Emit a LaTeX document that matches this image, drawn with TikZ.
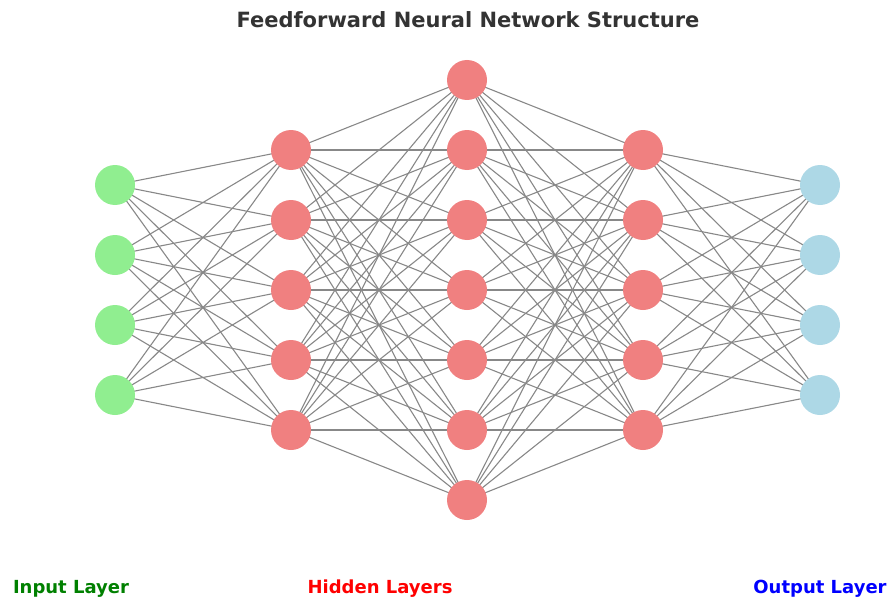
\documentclass[tikz,border=0pt]{standalone}
\usepackage{fontspec}
\setmainfont{DejaVu Sans}
\usepackage{tikz}
\usetikzlibrary{backgrounds}
\definecolor{incolor}{HTML}{90EE90}
\definecolor{hidcolor}{HTML}{F08080}
\definecolor{outcolor}{HTML}{ADD8E6}
\definecolor{titlecolor}{HTML}{333333}
\definecolor{linkcolor}{HTML}{888888}
\newcommand{\edgecolor}{linkcolor}
\newcommand{\nodesize}{40pt}
\newcommand{\edgewidth}{1.1pt}

\begin{document}
\begin{tikzpicture}[x=1pt,y=-1pt]
\useasboundingbox (0,0) rectangle (890,599);
%title and labels
\node[text=titlecolor,font=\bfseries\fontsize{21}{24}\selectfont,anchor=base] (title) at (468,28) {Feedforward Neural Network Structure};
\node[text=green!50!black,font=\bfseries\fontsize{18}{21}\selectfont,anchor=base] (inlabel) at (71,593) {Input Layer};
\node[text=red,font=\bfseries\fontsize{18}{21}\selectfont,anchor=base] (hidlabel) at (380,593) {Hidden Layers};
\node[text=blue,font=\bfseries\fontsize{18}{21}\selectfont,anchor=base] (outlabel) at (820,593) {Output Layer};
%input
\node[fill=incolor] (11) at (115,185) [circle,inner sep=0,minimum size=\nodesize] {};
\node[fill=incolor] (12) at (115,255) [circle,inner sep=0,minimum size=\nodesize] {};
\node[fill=incolor] (13) at (115,325) [circle,inner sep=0,minimum size=\nodesize] {};
\node[fill=incolor] (14) at (115,395) [circle,inner sep=0,minimum size=\nodesize] {};
%hidden 1
\node[fill=hidcolor] (21) at (291,150) [circle,inner sep=0,minimum size=\nodesize] {};
\node[fill=hidcolor] (22) at (291,220) [circle,inner sep=0,minimum size=\nodesize] {};
\node[fill=hidcolor] (23) at (291,290) [circle,inner sep=0,minimum size=\nodesize] {};
\node[fill=hidcolor] (24) at (291,360) [circle,inner sep=0,minimum size=\nodesize] {};
\node[fill=hidcolor] (25) at (291,430) [circle,inner sep=0,minimum size=\nodesize] {};
%hidden 2
\node[fill=hidcolor] (31) at (467,80) [circle,inner sep=0,minimum size=\nodesize] {};
\node[fill=hidcolor] (32) at (467,150) [circle,inner sep=0,minimum size=\nodesize] {};
\node[fill=hidcolor] (33) at (467,220) [circle,inner sep=0,minimum size=\nodesize] {};
\node[fill=hidcolor] (34) at (467,290) [circle,inner sep=0,minimum size=\nodesize] {};
\node[fill=hidcolor] (35) at (467,360) [circle,inner sep=0,minimum size=\nodesize] {};
\node[fill=hidcolor] (36) at (467,430) [circle,inner sep=0,minimum size=\nodesize] {};
\node[fill=hidcolor] (37) at (467,500) [circle,inner sep=0,minimum size=\nodesize] {};
%hidden 3
\node[fill=hidcolor] (41) at (643,150) [circle,inner sep=0,minimum size=\nodesize] {};
\node[fill=hidcolor] (42) at (643,220) [circle,inner sep=0,minimum size=\nodesize] {};
\node[fill=hidcolor] (43) at (643,290) [circle,inner sep=0,minimum size=\nodesize] {};
\node[fill=hidcolor] (44) at (643,360) [circle,inner sep=0,minimum size=\nodesize] {};
\node[fill=hidcolor] (45) at (643,430) [circle,inner sep=0,minimum size=\nodesize] {};
%output
\node[fill=outcolor] (51) at (820,185) [circle,inner sep=0,minimum size=\nodesize] {};
\node[fill=outcolor] (52) at (820,255) [circle,inner sep=0,minimum size=\nodesize] {};
\node[fill=outcolor] (53) at (820,325) [circle,inner sep=0,minimum size=\nodesize] {};
\node[fill=outcolor] (54) at (820,395) [circle,inner sep=0,minimum size=\nodesize] {};
%12
\begin{scope}[on background layer]
\draw[\edgecolor] [line width = \edgewidth] (11.center) -- (21.center);
\draw[\edgecolor] [line width = \edgewidth] (11.center) -- (22.center);
\draw[\edgecolor] [line width = \edgewidth] (11.center) -- (23.center);
\draw[\edgecolor] [line width = \edgewidth] (11.center) -- (24.center);
\draw[\edgecolor] [line width = \edgewidth] (11.center) -- (25.center);
\draw[\edgecolor] [line width = \edgewidth] (12.center) -- (21.center);
\draw[\edgecolor] [line width = \edgewidth] (12.center) -- (22.center);
\draw[\edgecolor] [line width = \edgewidth] (12.center) -- (23.center);
\draw[\edgecolor] [line width = \edgewidth] (12.center) -- (24.center);
\draw[\edgecolor] [line width = \edgewidth] (12.center) -- (25.center);
\draw[\edgecolor] [line width = \edgewidth] (13.center) -- (21.center);
\draw[\edgecolor] [line width = \edgewidth] (13.center) -- (22.center);
\draw[\edgecolor] [line width = \edgewidth] (13.center) -- (23.center);
\draw[\edgecolor] [line width = \edgewidth] (13.center) -- (24.center);
\draw[\edgecolor] [line width = \edgewidth] (13.center) -- (25.center);
\draw[\edgecolor] [line width = \edgewidth] (14.center) -- (21.center);
\draw[\edgecolor] [line width = \edgewidth] (14.center) -- (22.center);
\draw[\edgecolor] [line width = \edgewidth] (14.center) -- (23.center);
\draw[\edgecolor] [line width = \edgewidth] (14.center) -- (24.center);
\draw[\edgecolor] [line width = \edgewidth] (14.center) -- (25.center);
\end{scope}
%23
\begin{scope}[on background layer]
\draw[\edgecolor] [line width = \edgewidth] (21.center) -- (31.center);
\draw[\edgecolor] [line width = \edgewidth] (21.center) -- (32.center);
\draw[\edgecolor] [line width = \edgewidth] (21.center) -- (33.center);
\draw[\edgecolor] [line width = \edgewidth] (21.center) -- (34.center);
\draw[\edgecolor] [line width = \edgewidth] (21.center) -- (35.center);
\draw[\edgecolor] [line width = \edgewidth] (21.center) -- (36.center);
\draw[\edgecolor] [line width = \edgewidth] (21.center) -- (37.center);
\draw[\edgecolor] [line width = \edgewidth] (22.center) -- (31.center);
\draw[\edgecolor] [line width = \edgewidth] (22.center) -- (32.center);
\draw[\edgecolor] [line width = \edgewidth] (22.center) -- (33.center);
\draw[\edgecolor] [line width = \edgewidth] (22.center) -- (34.center);
\draw[\edgecolor] [line width = \edgewidth] (22.center) -- (35.center);
\draw[\edgecolor] [line width = \edgewidth] (22.center) -- (36.center);
\draw[\edgecolor] [line width = \edgewidth] (22.center) -- (37.center);
\draw[\edgecolor] [line width = \edgewidth] (23.center) -- (31.center);
\draw[\edgecolor] [line width = \edgewidth] (23.center) -- (32.center);
\draw[\edgecolor] [line width = \edgewidth] (23.center) -- (33.center);
\draw[\edgecolor] [line width = \edgewidth] (23.center) -- (34.center);
\draw[\edgecolor] [line width = \edgewidth] (23.center) -- (35.center);
\draw[\edgecolor] [line width = \edgewidth] (23.center) -- (36.center);
\draw[\edgecolor] [line width = \edgewidth] (23.center) -- (37.center);
\draw[\edgecolor] [line width = \edgewidth] (24.center) -- (31.center);
\draw[\edgecolor] [line width = \edgewidth] (24.center) -- (32.center);
\draw[\edgecolor] [line width = \edgewidth] (24.center) -- (33.center);
\draw[\edgecolor] [line width = \edgewidth] (24.center) -- (34.center);
\draw[\edgecolor] [line width = \edgewidth] (24.center) -- (35.center);
\draw[\edgecolor] [line width = \edgewidth] (24.center) -- (36.center);
\draw[\edgecolor] [line width = \edgewidth] (24.center) -- (37.center);
\draw[\edgecolor] [line width = \edgewidth] (25.center) -- (31.center);
\draw[\edgecolor] [line width = \edgewidth] (25.center) -- (32.center);
\draw[\edgecolor] [line width = \edgewidth] (25.center) -- (33.center);
\draw[\edgecolor] [line width = \edgewidth] (25.center) -- (34.center);
\draw[\edgecolor] [line width = \edgewidth] (25.center) -- (35.center);
\draw[\edgecolor] [line width = \edgewidth] (25.center) -- (36.center);
\draw[\edgecolor] [line width = \edgewidth] (25.center) -- (37.center);
\end{scope}
%34
\begin{scope}[on background layer]
\draw[\edgecolor] [line width = \edgewidth] (31.center) -- (41.center);
\draw[\edgecolor] [line width = \edgewidth] (31.center) -- (42.center);
\draw[\edgecolor] [line width = \edgewidth] (31.center) -- (43.center);
\draw[\edgecolor] [line width = \edgewidth] (31.center) -- (44.center);
\draw[\edgecolor] [line width = \edgewidth] (31.center) -- (45.center);
\draw[\edgecolor] [line width = \edgewidth] (32.center) -- (41.center);
\draw[\edgecolor] [line width = \edgewidth] (32.center) -- (42.center);
\draw[\edgecolor] [line width = \edgewidth] (32.center) -- (43.center);
\draw[\edgecolor] [line width = \edgewidth] (32.center) -- (44.center);
\draw[\edgecolor] [line width = \edgewidth] (32.center) -- (45.center);
\draw[\edgecolor] [line width = \edgewidth] (33.center) -- (41.center);
\draw[\edgecolor] [line width = \edgewidth] (33.center) -- (42.center);
\draw[\edgecolor] [line width = \edgewidth] (33.center) -- (43.center);
\draw[\edgecolor] [line width = \edgewidth] (33.center) -- (44.center);
\draw[\edgecolor] [line width = \edgewidth] (33.center) -- (45.center);
\draw[\edgecolor] [line width = \edgewidth] (34.center) -- (41.center);
\draw[\edgecolor] [line width = \edgewidth] (34.center) -- (42.center);
\draw[\edgecolor] [line width = \edgewidth] (34.center) -- (43.center);
\draw[\edgecolor] [line width = \edgewidth] (34.center) -- (44.center);
\draw[\edgecolor] [line width = \edgewidth] (34.center) -- (45.center);
\draw[\edgecolor] [line width = \edgewidth] (35.center) -- (41.center);
\draw[\edgecolor] [line width = \edgewidth] (35.center) -- (42.center);
\draw[\edgecolor] [line width = \edgewidth] (35.center) -- (43.center);
\draw[\edgecolor] [line width = \edgewidth] (35.center) -- (44.center);
\draw[\edgecolor] [line width = \edgewidth] (35.center) -- (45.center);
\draw[\edgecolor] [line width = \edgewidth] (36.center) -- (41.center);
\draw[\edgecolor] [line width = \edgewidth] (36.center) -- (42.center);
\draw[\edgecolor] [line width = \edgewidth] (36.center) -- (43.center);
\draw[\edgecolor] [line width = \edgewidth] (36.center) -- (44.center);
\draw[\edgecolor] [line width = \edgewidth] (36.center) -- (45.center);
\draw[\edgecolor] [line width = \edgewidth] (37.center) -- (41.center);
\draw[\edgecolor] [line width = \edgewidth] (37.center) -- (42.center);
\draw[\edgecolor] [line width = \edgewidth] (37.center) -- (43.center);
\draw[\edgecolor] [line width = \edgewidth] (37.center) -- (44.center);
\draw[\edgecolor] [line width = \edgewidth] (37.center) -- (45.center);
\end{scope}
%45
\begin{scope}[on background layer]
\draw[\edgecolor] [line width = \edgewidth] (41.center) -- (51.center);
\draw[\edgecolor] [line width = \edgewidth] (41.center) -- (52.center);
\draw[\edgecolor] [line width = \edgewidth] (41.center) -- (53.center);
\draw[\edgecolor] [line width = \edgewidth] (41.center) -- (54.center);
\draw[\edgecolor] [line width = \edgewidth] (42.center) -- (51.center);
\draw[\edgecolor] [line width = \edgewidth] (42.center) -- (52.center);
\draw[\edgecolor] [line width = \edgewidth] (42.center) -- (53.center);
\draw[\edgecolor] [line width = \edgewidth] (42.center) -- (54.center);
\draw[\edgecolor] [line width = \edgewidth] (43.center) -- (51.center);
\draw[\edgecolor] [line width = \edgewidth] (43.center) -- (52.center);
\draw[\edgecolor] [line width = \edgewidth] (43.center) -- (53.center);
\draw[\edgecolor] [line width = \edgewidth] (43.center) -- (54.center);
\draw[\edgecolor] [line width = \edgewidth] (44.center) -- (51.center);
\draw[\edgecolor] [line width = \edgewidth] (44.center) -- (52.center);
\draw[\edgecolor] [line width = \edgewidth] (44.center) -- (53.center);
\draw[\edgecolor] [line width = \edgewidth] (44.center) -- (54.center);
\draw[\edgecolor] [line width = \edgewidth] (45.center) -- (51.center);
\draw[\edgecolor] [line width = \edgewidth] (45.center) -- (52.center);
\draw[\edgecolor] [line width = \edgewidth] (45.center) -- (53.center);
\draw[\edgecolor] [line width = \edgewidth] (45.center) -- (54.center);
\end{scope}
\end{tikzpicture}
\end{document}
